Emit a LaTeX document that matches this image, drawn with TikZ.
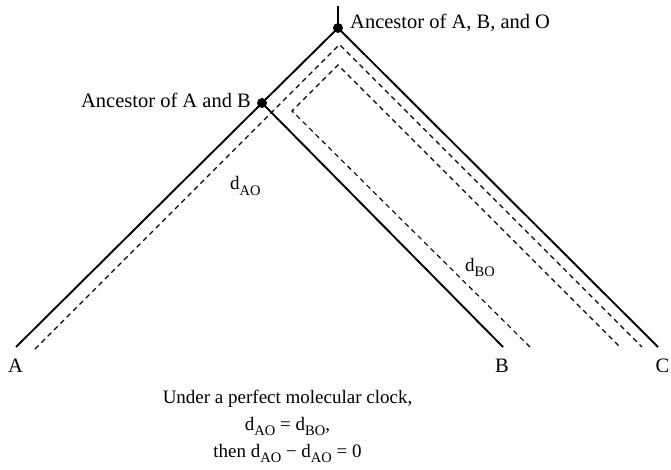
\documentclass[tikz,border=0pt]{standalone}
\usepackage{fontspec}
\setmainfont{Liberation Serif}
\newcommand\sbx[1]{\raisebox{-0.28em}{\fontsize{14.5}{14.5}\selectfont #1}}
\begin{document}
\begin{tikzpicture}[x=1pt,y=-1pt,
  branch/.style={line width=1.9pt},
  distpath/.style={line width=1.1pt, dash pattern=on 5pt off 4pt},
  dotnode/.style={circle, fill=black, inner sep=0pt, minimum size=10pt},
  lbl/.style={font=\fontsize{19}{25}\selectfont, inner sep=0pt},
  biglbl/.style={font=\fontsize{20.5}{25}\selectfont, inner sep=0pt}]
\useasboundingbox (0,0) rectangle (671,470);
% tree
\coordinate (top) at (338,6);
\coordinate (A) at (16,347);
\coordinate (B) at (503,347);
\coordinate (C) at (658,347);
\node[dotnode] (root) at (338,28) {};
\node[dotnode] (ab) at (262,103) {};
\draw[branch] (top) -- (root.center);
\draw[branch] (root.center) -- (ab.center) -- (A);
\draw[branch] (ab.center) -- (B);
\draw[branch] (root.center) -- (C);
% distance paths
\coordinate (aoS) at (35,349);
\coordinate (aoT) at (339.5,44.5);
\coordinate (aoE) at (642,347);
\draw[distpath] (aoS) -- (aoT) -- (aoE);
\coordinate (boS) at (530,347);
\coordinate (boK) at (292,111);
\coordinate (boT) at (338,65);
\coordinate (boE) at (620,347);
\draw[distpath] (boS) -- (boK) -- (boT) -- (boE);
% labels
\node[biglbl, anchor=base west] (lroot) at (350,29) {Ancestor of A, B, and O};
\node[biglbl, anchor=base east] (lab) at (251,108) {Ancestor of A and B};
\node[biglbl, anchor=base] (la) at (15.5,372) {A};
\node[biglbl, anchor=base] (lb) at (502,372) {B};
\node[biglbl, anchor=base] (lc) at (662.5,372) {C};
\node[lbl, anchor=base west] (dao) at (230,190) {d\sbx{AO}};
\node[lbl, anchor=base west] (dbo) at (465,271) {d\sbx{BO}};
\node[lbl, anchor=base] (u1) at (287.5,403) {Under a perfect molecular clock,};
\node[lbl, anchor=base] (u2) at (287.5,430) {d\sbx{AO} = d\sbx{BO},};
\node[lbl, anchor=base] (u3) at (287.5,457) {then d\sbx{AO} − d\sbx{AO} = 0};
\end{tikzpicture}
\end{document}
